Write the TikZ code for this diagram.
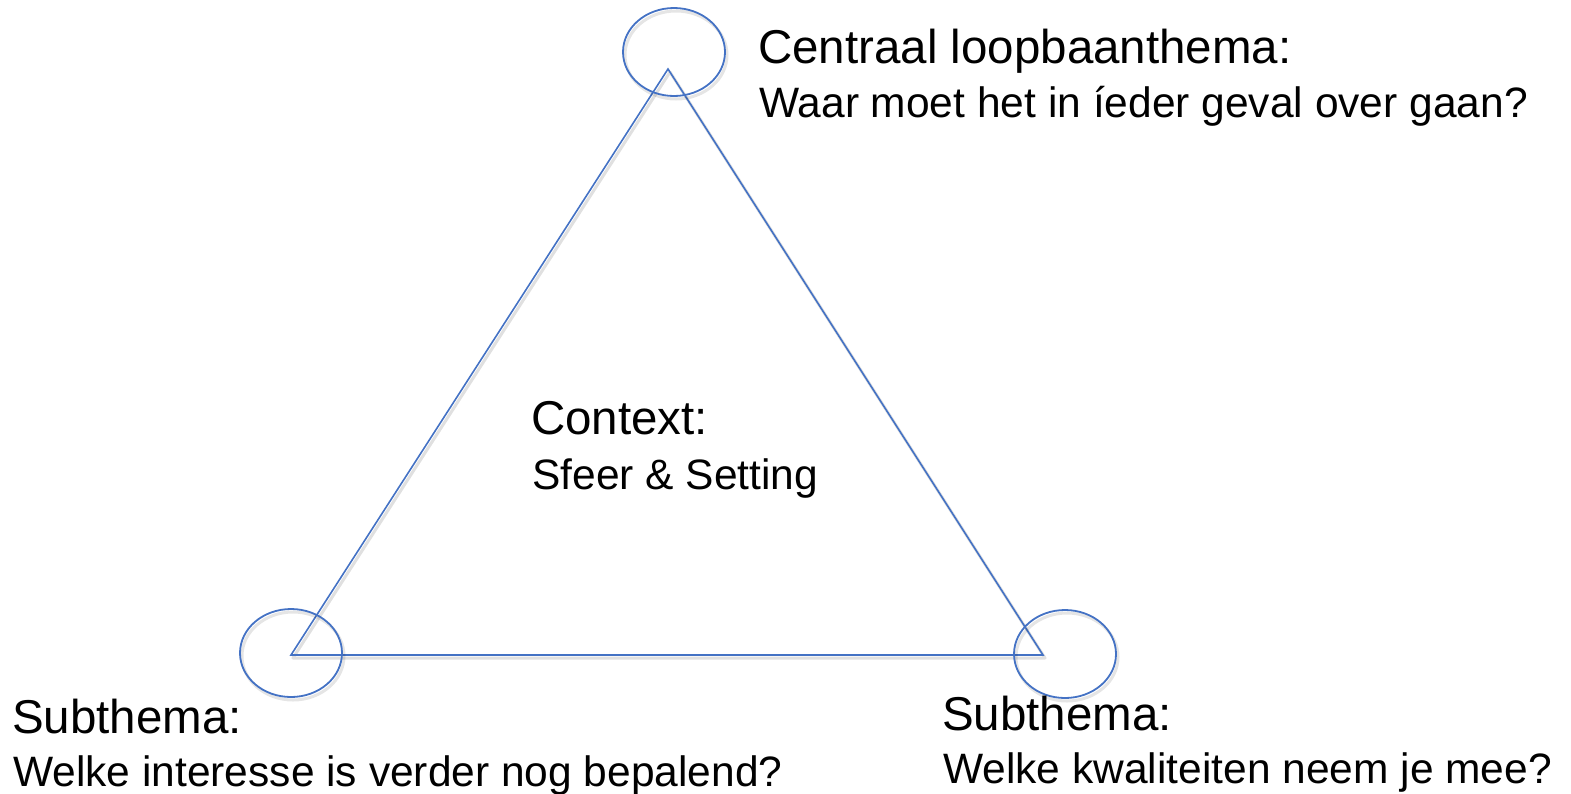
\documentclass[tikz,border=0pt]{standalone}
\usepackage{fontspec}
\setmainfont{Liberation Sans}
\usetikzlibrary{shapes.geometric}
\definecolor{lineblue}{RGB}{68,114,196}
\begin{document}
\begin{tikzpicture}[x=1pt,y=-1pt,
  shape line/.style={draw=lineblue,line width=1.6pt},
  shade line/.style={draw=black,opacity=0.12,line width=3pt},
  ring/.style={ellipse,minimum width=102pt,minimum height=88pt,inner sep=0pt,shape line,line width=1.8pt},
  ringshade/.style={ellipse,minimum width=102pt,minimum height=88pt,inner sep=0pt,draw=black,opacity=0.10,line width=3pt},
  bigtxt/.style={anchor=base west,inner sep=0pt,font=\fontsize{47.5}{57}\selectfont},
  smalltxt/.style={anchor=base west,inner sep=0pt,font=\fontsize{42.5}{51}\selectfont}]
\useasboundingbox (0,0) rectangle (1571,793);
% triangle corners
\coordinate (top) at (668,69);
\coordinate (bl) at (291,655);
\coordinate (br) at (1043,655);
% soft shadow
\draw[shade line,line join=round] ([shift={(2,3)}]top) -- ([shift={(2,3)}]br) -- ([shift={(2,3)}]bl) -- cycle;
\draw[shape line,line join=miter] (top) -- (br) -- (bl) -- cycle;
% circles
\node[ringshade] (stop) at (676,55) {};
\node[ringshade] (sbl) at (293,656) {};
\node[ringshade] (sbr) at (1067,657) {};
\node[ring] (ctop) at (674,52) {};
\node[ring] (cbl) at (291,653) {};
\node[ring] (cbr) at (1065,654) {};
% texts
\node[bigtxt] (t1) at (758,63) {Centraal loopbaanthema:};
\node[smalltxt] (t2) at (759,117) {Waar moet het in íeder geval over gaan?};
\node[bigtxt] (c1) at (531,434) {Context:};
\node[smalltxt] (c2) at (532,489) {Sfeer \& Setting};
\node[bigtxt] (l1) at (12,733) {Subthema:};
\node[smalltxt] (l2) at (13,786) {Welke interesse is verder nog bepalend?};
\node[bigtxt] (r1) at (942,730) {Subthema:};
\node[smalltxt] (r2) at (943,783) {Welke kwaliteiten neem je mee?};
\end{tikzpicture}
\end{document}
